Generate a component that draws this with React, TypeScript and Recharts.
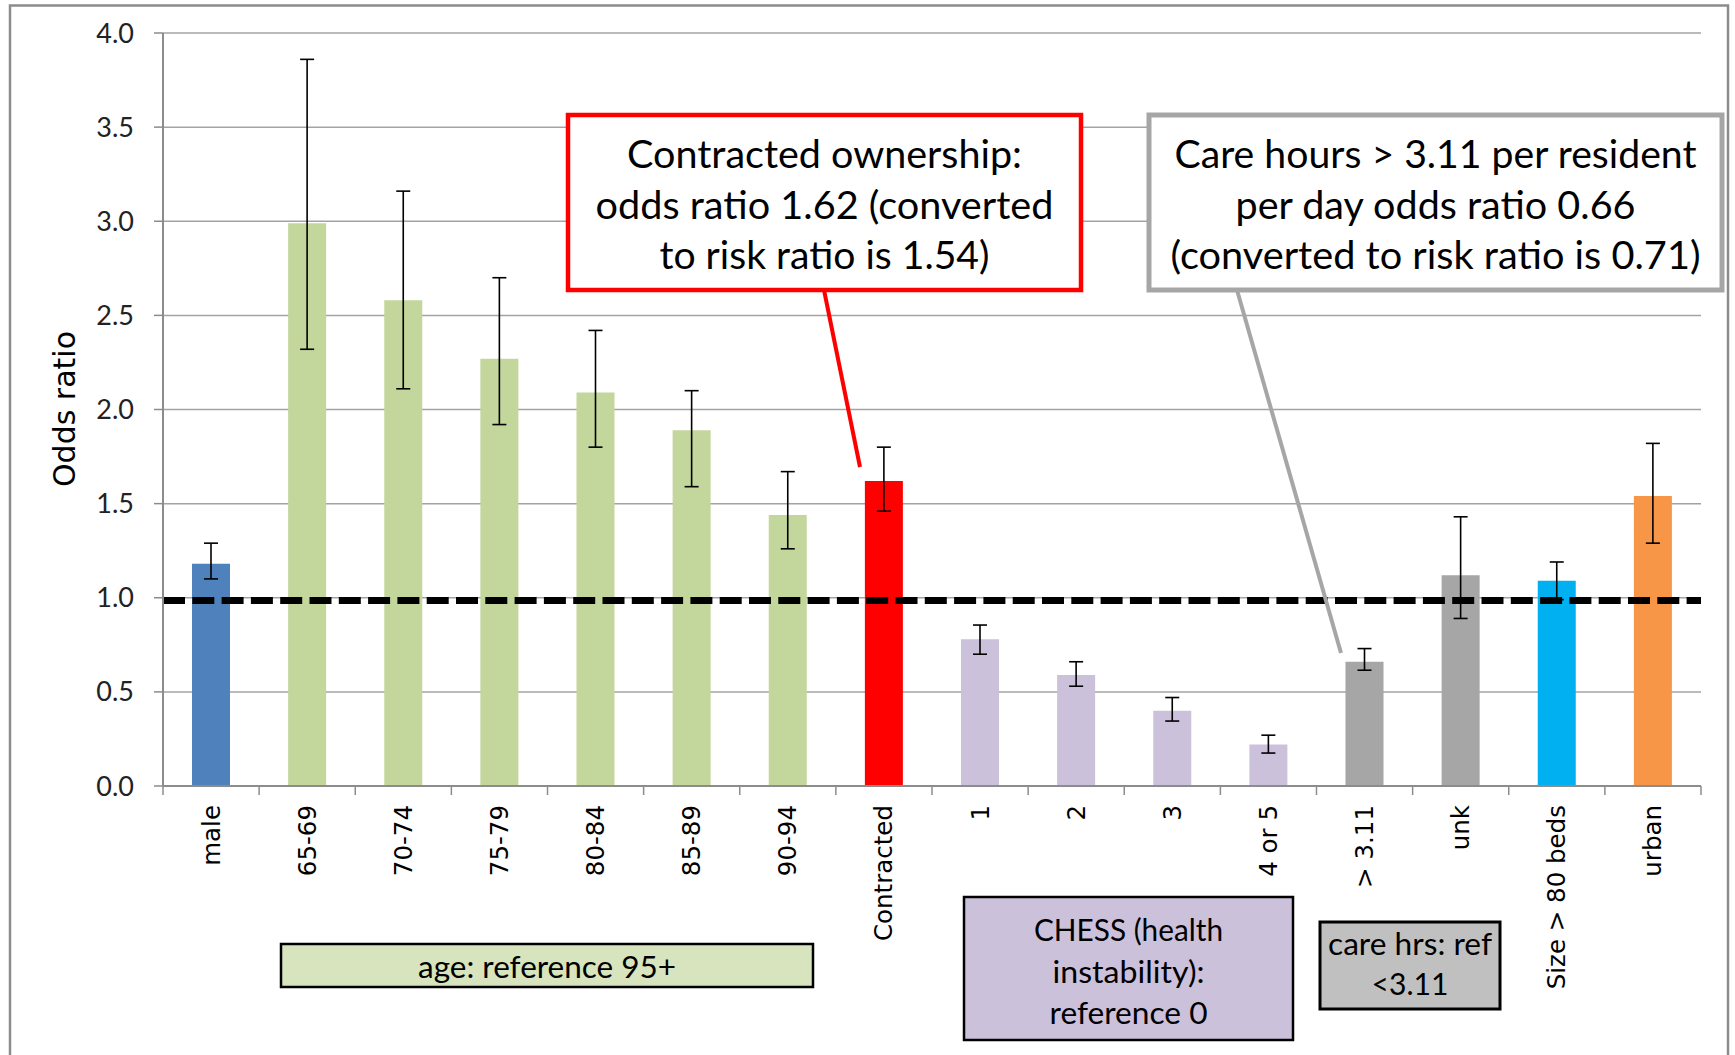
import React from 'react';
import { BarChart, Bar, XAxis, YAxis, CartesianGrid, ErrorBar, ReferenceLine, Cell } from 'recharts';

// ---------- data ----------
const categories = ['male', '65-69', '70-74', '75-79', '80-84', '85-89', '90-94', 'Contracted', '1', '2', '3', '4 or 5', '> 3.11', 'unk', 'Size > 80 beds', 'urban'];
const oddsRatio = [1.18, 2.99, 2.58, 2.27, 2.09, 1.89, 1.44, 1.62, 0.78, 0.59, 0.40, 0.22, 0.66, 1.12, 1.09, 1.54];
const ciLower = [1.10, 2.32, 2.11, 1.92, 1.80, 1.59, 1.26, 1.46, 0.70, 0.53, 0.345, 0.175, 0.615, 0.89, 0.99, 1.29];
const ciUpper = [1.29, 3.86, 3.16, 2.70, 2.42, 2.10, 1.67, 1.80, 0.855, 0.66, 0.47, 0.27, 0.73, 1.43, 1.19, 1.82];
const groups = ['sex', 'age', 'age', 'age', 'age', 'age', 'age', 'ownership', 'chess', 'chess', 'chess', 'chess', 'care', 'care', 'size', 'urban'];
const yTicks = [0, 0.5, 1, 1.5, 2, 2.5, 3, 3.5, 4];
const referenceOdds = 0.985;

// ---------- styles ----------
const groupColors: Record<string, string> = {
  sex: '#4F81BD',
  age: '#C3D69B',
  ownership: '#FF0000',
  chess: '#CCC1DA',
  care: '#A6A6A6',
  size: '#00B0F0',
  urban: '#F79646',
};

const W = 1735;
const H = 1055;
const MARGIN = { top: 33, right: 34, bottom: 69, left: 63 };
const Y_AXIS_W = 100;
const X_AXIS_H = 200;
const PLOT_W = W - MARGIN.left - Y_AXIS_W - MARGIN.right;
const BAND = PLOT_W / categories.length;

const data = categories.map((name, i) => ({
  name,
  or: oddsRatio[i],
  err: [oddsRatio[i] - ciLower[i], ciUpper[i] - oddsRatio[i]],
  group: groups[i],
}));

const XTick = (props: any) => {
  const { x, y, payload, index } = props;
  const half = BAND / 2;
  const ty = y + 19;
  return (
    <g>
      <line x1={x - half} x2={x - half} y1={y} y2={y + 9} stroke="#8c8c8c" strokeWidth={1.5} />
      {index === categories.length - 1 && (
        <line x1={x + half} x2={x + half} y1={y} y2={y + 9} stroke="#8c8c8c" strokeWidth={1.5} />
      )}
      <text
        x={x}
        y={ty}
        transform={`rotate(-90 ${x} ${ty})`}
        textAnchor="end"
        dominantBaseline="central"
        fontFamily="DejaVu Sans"
        fontSize={24.5}
        fill="#000"
      >
        {payload.value}
      </text>
    </g>
  );
};

const CalloutText = ({ x, y, w, size, children }: any) => (
  <text
    x={x}
    y={y}
    textAnchor="middle"
    dominantBaseline="central"
    fontFamily="Lato"
    fontSize={size}
    fill="#000"
    textLength={w}
    lengthAdjust="spacingAndGlyphs"
  >
    {children}
  </text>
);

export default function App() {
  return (
    <div style={{ position: 'absolute', left: 0, top: 0, width: W, height: H, background: '#fff' }}>
      <div style={{ position: 'absolute', left: 0, top: 0 }}>
        <BarChart width={W} height={H} data={data} margin={MARGIN}>
          <CartesianGrid vertical={false} stroke="#a3a3a3" strokeWidth={1.5} />
          <XAxis
            dataKey="name"
            interval={0}
            height={X_AXIS_H}
            tickLine={false}
            tickSize={0}
            tickMargin={0}
            axisLine={{ stroke: '#8c8c8c', strokeWidth: 2 }}
            tick={<XTick />}
          />
          <YAxis
            domain={[0, 4]}
            ticks={yTicks}
            width={Y_AXIS_W}
            tickFormatter={(v: number) => v.toFixed(1)}
            tickSize={9}
            tickMargin={20}
            tickLine={{ stroke: '#8c8c8c', strokeWidth: 1.5 }}
            axisLine={{ stroke: '#8c8c8c', strokeWidth: 2 }}
            tick={{ fontFamily: 'Lato', fontSize: 27, fill: '#222' }}
          />
          <Bar dataKey="or" barSize={38} isAnimationActive={false}>
            {data.map((d, i) => (
              <Cell key={i} fill={groupColors[d.group]} />
            ))}
            <ErrorBar dataKey="err" width={7} stroke="#000" strokeWidth={1.6} direction="y" isAnimationActive={false} />
          </Bar>
          <ReferenceLine y={referenceOdds} stroke="#000" strokeWidth={7} strokeDasharray="22 7.3" />
        </BarChart>
      </div>
      <svg
        width={W}
        height={H}
        style={{ position: 'absolute', left: 0, top: 0, pointerEvents: 'none' }}
      >
        {/* outer frame */}
        <rect x={10} y={5.5} width={1718} height={1070} fill="none" stroke="#8c8c8c" strokeWidth={2.5} />
        {/* y axis label */}
        <text
          x={64}
          y={409}
          transform="rotate(-90 64 409)"
          textAnchor="middle"
          dominantBaseline="central"
          fontFamily="DejaVu Sans"
          fontSize={30}
          fill="#000"
        >
          Odds ratio
        </text>

        {/* contracted ownership callout */}
        <line x1={824} y1={290} x2={860} y2={467} stroke="#FF0000" strokeWidth={4} />
        <rect x={568} y={115} width={513} height={175} fill="#fff" stroke="#FF0000" strokeWidth={4.5} />
        <CalloutText x={824.5} y={153} w={395} size={38}>Contracted ownership:</CalloutText>
        <CalloutText x={824.5} y={204} w={458} size={38}>odds ratio 1.62 (converted</CalloutText>
        <CalloutText x={824.5} y={254} w={330} size={38}>to risk ratio is 1.54)</CalloutText>

        {/* care hours callout */}
        <line x1={1237} y1={290} x2={1341} y2={653} stroke="#A6A6A6" strokeWidth={4} />
        <rect x={1149} y={115} width={573} height={175} fill="#fff" stroke="#A6A6A6" strokeWidth={5} />
        <CalloutText x={1435.5} y={153} w={522} size={38}>Care hours &gt; 3.11 per resident</CalloutText>
        <CalloutText x={1435.5} y={204} w={400} size={38}>per day odds ratio 0.66</CalloutText>
        <CalloutText x={1435.5} y={254} w={530} size={38}>(converted to risk ratio is 0.71)</CalloutText>

        {/* age reference box */}
        <rect x={281} y={944} width={532} height={43} fill="#D7E4BD" stroke="#000" strokeWidth={2.5} />
        <CalloutText x={547} y={966} w={258} size={30}>age: reference 95+</CalloutText>

        {/* CHESS box */}
        <rect x={964} y={897} width={329} height={143} fill="#CCC1DA" stroke="#000" strokeWidth={2.5} />
        <CalloutText x={1128.5} y={929} w={189} size={30}>CHESS (health</CalloutText>
        <CalloutText x={1128.5} y={971} w={152} size={30}>instability):</CalloutText>
        <CalloutText x={1128.5} y={1012} w={158} size={30}>reference 0</CalloutText>

        {/* care hrs box */}
        <rect x={1320} y={922} width={180} height={87} fill="#C0C0C0" stroke="#000" strokeWidth={3} />
        <CalloutText x={1410} y={943} w={164} size={30}>care hrs: ref</CalloutText>
        <CalloutText x={1410} y={983} w={77} size={30}>&lt;3.11</CalloutText>
      </svg>
    </div>
  );
}
